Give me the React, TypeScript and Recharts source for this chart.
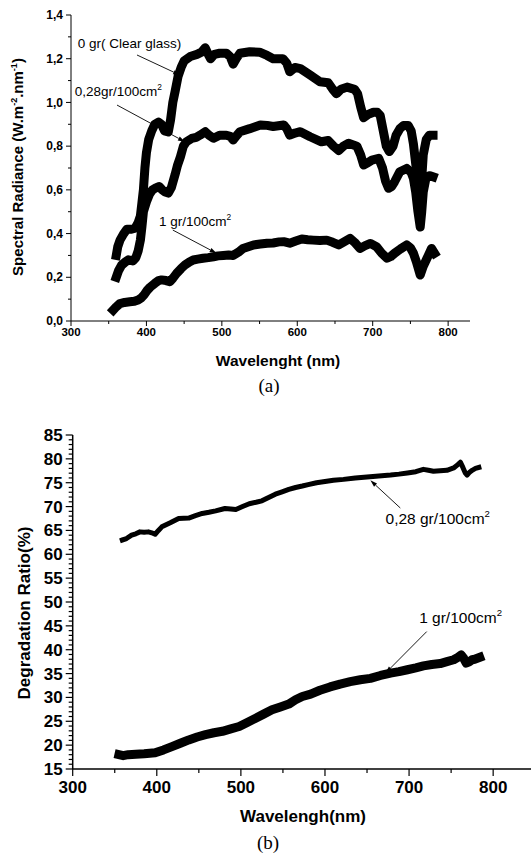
import { LineChart, Line, XAxis, YAxis, ReferenceDot, ReferenceLine } from "recharts";

// (a) spectral radiance, [wavelength nm, W.m-2.nm-1]
const clearGlass: number[][] = [
  [360, 0.3], [362, 0.34], [365, 0.37], [370, 0.4], [374, 0.42], [380, 0.42], [385, 0.425], [389, 0.45],
  [392, 0.48], [394, 0.54], [396, 0.6], [398, 0.7], [400, 0.77], [403, 0.83], [407, 0.87], [411, 0.9],
  [416, 0.91], [420, 0.9], [424, 0.87], [429, 0.865], [432, 0.92], [435, 1.0], [438, 1.05], [442, 1.12],
  [446, 1.16], [450, 1.19], [458, 1.21], [467, 1.22], [473, 1.23], [478, 1.25], [482, 1.22], [485, 1.2],
  [490, 1.22], [497, 1.225], [506, 1.225], [511, 1.21], [515, 1.175], [519, 1.2], [524, 1.225], [537, 1.232],
  [550, 1.23], [560, 1.215], [568, 1.2], [581, 1.2], [586, 1.18], [590, 1.14], [597, 1.16], [604, 1.155],
  [617, 1.125], [630, 1.095], [641, 1.09], [647, 1.06], [652, 1.04], [658, 1.06], [666, 1.07], [676, 1.06],
  [680, 1.04], [684, 0.98], [688, 0.93], [694, 0.945], [701, 0.955], [706, 0.955], [710, 0.94], [714, 0.87],
  [718, 0.8], [722, 0.775], [727, 0.8], [731, 0.85], [736, 0.88], [741, 0.895], [747, 0.895], [751, 0.87],
  [754, 0.81], [757, 0.72], [760, 0.64], [763, 0.58], [765, 0.65], [767, 0.76], [771, 0.83], [775, 0.85],
  [780, 0.85],
];
const dust028: number[][] = [
  [360, 0.2], [363, 0.23], [367, 0.255], [372, 0.27], [376, 0.28], [382, 0.275], [386, 0.29], [389, 0.32],
  [392, 0.37], [394, 0.43], [396, 0.5], [400, 0.545], [404, 0.58], [408, 0.6], [413, 0.61], [417, 0.615],
  [421, 0.6], [425, 0.59], [429, 0.585], [433, 0.61], [438, 0.67], [441, 0.71], [445, 0.75], [449, 0.8],
  [453, 0.82], [460, 0.835], [466, 0.84], [471, 0.85], [478, 0.866], [483, 0.85], [489, 0.836], [497, 0.85],
  [506, 0.85], [511, 0.845], [515, 0.828], [520, 0.85], [524, 0.866], [537, 0.88], [551, 0.897], [560, 0.895],
  [568, 0.89], [582, 0.897], [586, 0.88], [590, 0.85], [597, 0.86], [604, 0.866], [617, 0.843], [632, 0.82],
  [641, 0.826], [648, 0.8], [655, 0.78], [661, 0.8], [668, 0.813], [679, 0.8], [684, 0.76], [688, 0.714],
  [694, 0.725], [699, 0.736], [708, 0.744], [713, 0.7], [717, 0.64], [721, 0.607], [725, 0.615], [729, 0.637],
  [736, 0.683], [745, 0.698], [751, 0.68], [754, 0.652], [757, 0.59], [760, 0.5], [763, 0.43], [765, 0.5],
  [767, 0.59], [771, 0.66], [776, 0.665], [780, 0.66],
];
const dust1: number[][] = [
  [356, 0.05], [360, 0.065], [365, 0.08], [371, 0.085], [378, 0.088], [384, 0.09], [389, 0.096], [393, 0.105],
  [397, 0.12], [401, 0.14], [405, 0.155], [411, 0.172], [416, 0.185], [420, 0.188], [426, 0.185], [431, 0.18],
  [435, 0.195], [440, 0.218], [446, 0.24], [451, 0.256], [457, 0.27], [462, 0.279], [468, 0.283], [475, 0.287],
  [482, 0.29], [489, 0.294], [495, 0.298], [502, 0.3], [509, 0.302], [515, 0.3], [522, 0.315], [528, 0.332],
  [535, 0.34], [542, 0.348], [551, 0.352], [560, 0.356], [568, 0.357], [576, 0.362], [582, 0.363], [590, 0.356],
  [598, 0.366], [606, 0.375], [614, 0.372], [621, 0.37], [630, 0.368], [639, 0.37], [647, 0.36], [655, 0.348],
  [662, 0.362], [670, 0.378], [676, 0.36], [683, 0.332], [690, 0.345], [697, 0.355], [705, 0.34], [712, 0.31],
  [719, 0.287], [724, 0.295], [729, 0.31], [737, 0.33], [745, 0.348], [750, 0.335], [754, 0.31], [758, 0.27],
  [763, 0.21], [767, 0.25], [772, 0.287], [778, 0.332], [782, 0.31],
];

// (b) degradation ratio, [wavelength nm, %]
const ratio028: number[][] = [
  [359, 63.0], [364, 63.3], [370, 64.0], [375, 64.3], [380, 64.7], [385, 64.6], [390, 64.7], [394, 64.5],
  [398, 64.2], [402, 65.0], [406, 65.75], [416, 66.6], [426, 67.5], [438, 67.6], [446, 68.1], [454, 68.55],
  [462, 68.8], [470, 69.1], [481, 69.6], [488, 69.5], [494, 69.4], [502, 70.0], [510, 70.6], [518, 70.9],
  [525, 71.2], [533, 71.9], [541, 72.6], [549, 73.1], [557, 73.6], [565, 74.0], [573, 74.3], [580, 74.6],
  [590, 75.0], [598, 75.2], [610, 75.5], [622, 75.7], [636, 76.0], [650, 76.2], [664, 76.4], [678, 76.6],
  [688, 76.8], [698, 77.05], [708, 77.3], [717, 77.8], [723, 77.6], [729, 77.4], [737, 77.5], [745, 77.6],
  [753, 78.1], [758, 78.8], [761, 79.3], [764, 78.2], [767, 77.0], [769, 76.6], [772, 77.2], [775, 77.6],
  [779, 78.0], [783, 78.2],
];
const ratio1: number[][] = [
  [355, 18.0], [360, 17.8], [366, 18.0], [375, 18.1], [385, 18.2], [398, 18.4], [408, 19.0], [418, 19.7],
  [428, 20.4], [438, 21.1], [448, 21.7], [458, 22.2], [468, 22.6], [478, 22.9], [488, 23.4], [498, 23.9],
  [507, 24.7], [517, 25.6], [527, 26.5], [537, 27.4], [547, 28.0], [557, 28.6], [565, 29.5], [573, 30.2],
  [583, 30.7], [594, 31.5], [606, 32.2], [618, 32.8], [630, 33.3], [642, 33.7], [654, 34.0], [666, 34.6],
  [678, 35.1], [688, 35.4], [698, 35.8], [708, 36.2], [717, 36.6], [727, 36.9], [737, 37.1], [745, 37.5],
  [753, 37.9], [758, 38.4], [762, 38.9], [765, 38.2], [768, 37.2], [771, 37.4], [775, 37.9], [778, 38.0],
  [784, 38.4],
];

const xMajor = [300, 400, 500, 600, 700, 800];
const xMinor = [350, 450, 550, 650, 750];
const yMajorA = [0, 0.2, 0.4, 0.6, 0.8, 1.0, 1.2, 1.4];
const yMinorA = [0.1, 0.3, 0.5, 0.7, 0.9, 1.1, 1.3];
const topTicksA = [0, 1, 2, 3, 4, 5, 6, 7, 8, 9];
const yMajorB = [15, 20, 25, 30, 35, 40, 45, 50, 55, 60, 65, 70, 75, 80, 85];
const yMinorB = Array.from({ length: 71 }, (_, i) => 15 + i).filter((v) => v % 5 !== 0);

const toPoints = (rows: number[][]) => rows.map(([x, y]) => ({ x, y }));
const isIn = (list: number[], v: number) => list.some((m) => Math.abs(m - v) < 1e-6);

const FONT = "'Liberation Sans', Arial, sans-serif";
const SERIF = "'Liberation Serif', 'Times New Roman', serif";

const makeYTick = (major: number[], fmt: (v: number) => string, majLen: number, minLen: number, fs: number, sw: number) =>
  (props: any) => {
    const { x, y, payload } = props;
    const big = isIn(major, payload.value);
    const len = big ? majLen : minLen;
    return (
      <g>
        <line x1={x} x2={x - len} y1={y} y2={y} stroke="#000" strokeWidth={sw} />
        {big && (
          <text x={x - majLen - 3} y={y} dy="0.35em" textAnchor="end" fontSize={fs} fontWeight="bold" fontFamily={FONT} fill="#000">
            {fmt(payload.value)}
          </text>
        )}
      </g>
    );
  };

const makeXTick = (majLen: number, minLen: number, fs: number, gap: number, sw: number) => (props: any) => {
  const { x, y, payload } = props;
  const big = isIn(xMajor, payload.value);
  const len = big ? majLen : minLen;
  return (
    <g>
      <line x1={x} x2={x} y1={y} y2={y + len} stroke="#000" strokeWidth={sw} />
      {big && (
        <text x={x} y={y + majLen + gap} dy="0.71em" textAnchor="middle" fontSize={fs} fontWeight="bold" fontFamily={FONT} fill="#000">
          {payload.value}
        </text>
      )}
    </g>
  );
};

const TopTick = (props: any) => {
  const { x, y } = props;
  return <line x1={x} x2={x} y1={y} y2={y + 5} stroke="#000" strokeWidth={1} />;
};

const Arrow = (p: any) => {
  const { x1, y1, x2, y2 } = p;
  const a = Math.atan2(y2 - y1, x2 - x1);
  const L = 7;
  const W = 2.2;
  const bx = x2 - L * Math.cos(a);
  const by = y2 - L * Math.sin(a);
  const pts = `${x2},${y2} ${bx + W * Math.sin(a)},${by - W * Math.cos(a)} ${bx - W * Math.sin(a)},${by + W * Math.cos(a)}`;
  return (
    <g>
      <line x1={x1} y1={y1} x2={bx} y2={by} stroke="#000" strokeWidth={0.9} />
      <polygon points={pts} fill="#000" />
    </g>
  );
};

const note = (main: string, sup: string | null, fs: number) => (p: any) => (
  <text x={p.cx} y={p.cy} fontSize={fs} fontFamily={FONT} fill="#000">
    {main}
    {sup && (
      <tspan dy={-fs * 0.45} fontSize={fs * 0.62}>
        {sup}
      </tspan>
    )}
  </text>
);

const commaFmt = (v: number) => v.toFixed(1).replace(".", ",");

export default function App() {
  return (
    <div style={{ position: "absolute", left: 0, top: 0, width: 532, height: 861, background: "#fff", fontFamily: FONT }}>
      {/* chart (a) */}
      <div style={{ position: "absolute", left: 0, top: 0 }}>
        <LineChart width={532} height={400} margin={{ top: 15, right: 62, left: 0, bottom: 49 }}>
          <XAxis
            dataKey="x"
            type="number"
            domain={[300, 829]}
            ticks={[...xMajor, ...xMinor]}
            interval={0}
            allowDataOverflow
            height={30}
            tickSize={0}
            tickMargin={0}
            tickLine={false}
            axisLine={{ stroke: "#000", strokeWidth: 1 }}
            tick={makeXTick(5, 3, 11.5, 2, 1)}
          />
          <XAxis
            xAxisId="top"
            orientation="top"
            type="number"
            domain={[0, 9.61]}
            ticks={topTicksA}
            interval={0}
            allowDataOverflow
            height={0}
            tickSize={0}
            tickMargin={0}
            tickLine={false}
            axisLine={{ stroke: "#000", strokeWidth: 1 }}
            tick={TopTick}
          />
          <YAxis
            type="number"
            domain={[0, 1.4]}
            ticks={[...yMajorA, ...yMinorA]}
            interval={0}
            allowDataOverflow
            width={71}
            tickSize={0}
            tickMargin={0}
            tickLine={false}
            axisLine={{ stroke: "#000", strokeWidth: 1 }}
            tick={makeYTick(yMajorA, commaFmt, 5, 3, 12, 1)}
          />
          <Line data={toPoints(clearGlass)} dataKey="y" type="linear" stroke="#000" strokeWidth={9} strokeLinejoin="round" strokeLinecap="square" dot={false} isAnimationActive={false} />
          <Line data={toPoints(dust028)} dataKey="y" type="linear" stroke="#000" strokeWidth={9} strokeLinejoin="round" strokeLinecap="square" dot={false} isAnimationActive={false} />
          <Line data={toPoints(dust1)} dataKey="y" type="linear" stroke="#000" strokeWidth={9} strokeLinejoin="round" strokeLinecap="square" dot={false} isAnimationActive={false} />
          <ReferenceLine segment={[{ x: 387.5, y: 1.217 }, { x: 444.6, y: 1.125 }]} shape={Arrow} ifOverflow="visible" />
          <ReferenceLine segment={[{ x: 361, y: 0.988 }, { x: 451, y: 0.82 }]} shape={Arrow} ifOverflow="visible" />
          <ReferenceLine segment={[{ x: 435, y: 0.416 }, { x: 493, y: 0.31 }]} shape={Arrow} ifOverflow="visible" />
          <ReferenceDot x={309} y={1.249} r={1} ifOverflow="visible" shape={note("0 gr( Clear glass)", null, 13.5)} />
          <ReferenceDot x={305} y={1.029} r={1} ifOverflow="visible" shape={note("0,28gr/100cm", "2", 13.5)} />
          <ReferenceDot x={416.7} y={0.435} r={1} ifOverflow="visible" shape={note("1 gr/100cm", "2", 13.5)} />
        </LineChart>
      </div>
      <div style={{ position: "absolute", left: 17, top: 167, transform: "translate(-50%, -50%) rotate(-90deg)", whiteSpace: "nowrap", fontSize: 15, fontWeight: "bold" }}>
        Spectral Radiance (W.m<sup style={{ fontSize: 9 }}>-2</sup>.nm<sup style={{ fontSize: 9 }}>-1</sup>)
      </div>
      <div style={{ position: "absolute", left: 278, top: 352, transform: "translateX(-50%)", whiteSpace: "nowrap", fontSize: 15.5, fontWeight: "bold" }}>
        Wavelenght (nm)
      </div>
      <div style={{ position: "absolute", left: 269, top: 375, transform: "translateX(-50%)", whiteSpace: "nowrap", fontSize: 19, fontFamily: SERIF }}>
        (a)
      </div>

      {/* chart (b) */}
      <div style={{ position: "absolute", left: 0, top: 410 }}>
        <LineChart width={532} height={451} margin={{ top: 25, right: 1, left: 0, bottom: 62 }}>
          <XAxis
            dataKey="x"
            type="number"
            domain={[300, 845]}
            ticks={[...xMajor, ...xMinor]}
            interval={0}
            allowDataOverflow
            height={30}
            tickSize={0}
            tickMargin={0}
            tickLine={false}
            axisLine={{ stroke: "#000", strokeWidth: 1.5 }}
            tick={makeXTick(7, 4, 17, 5, 1.2)}
          />
          <YAxis
            type="number"
            domain={[15, 85]}
            ticks={[...yMajorB, ...yMinorB]}
            interval={0}
            allowDataOverflow
            width={72.7}
            tickSize={0}
            tickMargin={0}
            tickLine={false}
            axisLine={{ stroke: "#000", strokeWidth: 1.5 }}
            tick={makeYTick(yMajorB, (v) => String(v), 7, 4, 17, 1.2)}
          />
          <Line data={toPoints(ratio028)} dataKey="y" type="linear" stroke="#000" strokeWidth={5} strokeLinejoin="round" strokeLinecap="square" dot={false} isAnimationActive={false} />
          <Line data={toPoints(ratio1)} dataKey="y" type="linear" stroke="#000" strokeWidth={9} strokeLinejoin="round" strokeLinecap="square" dot={false} isAnimationActive={false} />
          <ReferenceLine segment={[{ x: 689.6, y: 69.7 }, { x: 654, y: 75.5 }]} shape={Arrow} ifOverflow="visible" />
          <ReferenceLine segment={[{ x: 721, y: 43.8 }, { x: 672, y: 35.1 }]} shape={Arrow} ifOverflow="visible" />
          <ReferenceDot x={672} y={66.3} r={1} ifOverflow="visible" shape={note("0,28 gr/100cm", "2", 15.5)} />
          <ReferenceDot x={712} y={45.7} r={1} ifOverflow="visible" shape={note("1 gr/100cm", "2", 15.5)} />
        </LineChart>
      </div>
      <div style={{ position: "absolute", left: 25, top: 613, transform: "translate(-50%, -50%) rotate(-90deg)", whiteSpace: "nowrap", fontSize: 17, fontWeight: "bold" }}>
        Degradation Ratio(%)
      </div>
      <div style={{ position: "absolute", left: 303, top: 807, transform: "translateX(-50%)", whiteSpace: "nowrap", fontSize: 17, fontWeight: "bold" }}>
        Wavelengh(nm)
      </div>
      <div style={{ position: "absolute", left: 268, top: 832, transform: "translateX(-50%)", whiteSpace: "nowrap", fontSize: 19, fontFamily: SERIF }}>
        (b)
      </div>
    </div>
  );
}
